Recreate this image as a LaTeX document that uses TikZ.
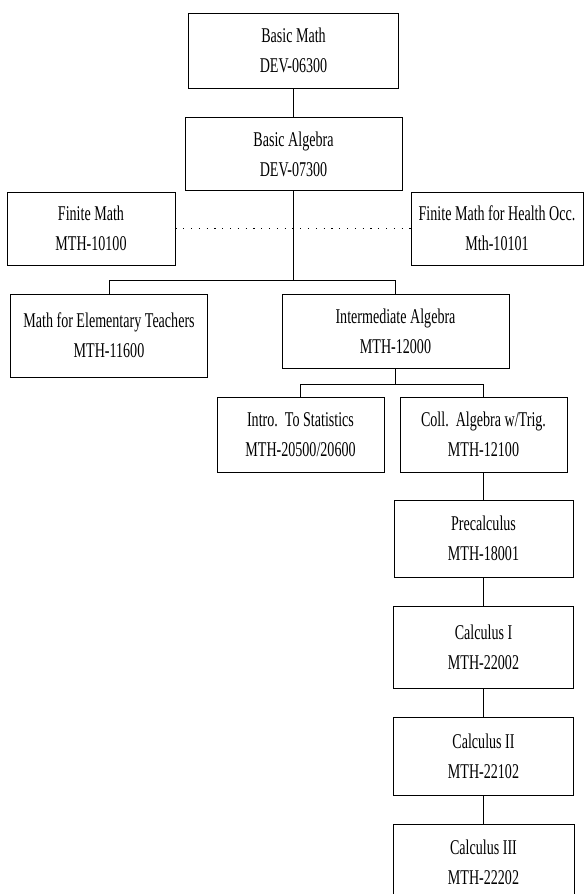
\documentclass[tikz,border=0pt]{standalone}
\usepackage{fontspec}
\setmainfont[FakeStretch=0.67]{Liberation Serif}

\tikzset{every picture/.style={line width=0.8pt}}
\tikzset{course/.style={draw, align=center, inner sep=0pt, font=\fontsize{21}{30}\selectfont}}

\begin{document}
\begin{tikzpicture}[x=1pt,y=1pt,yscale=-1,xscale=1]
\useasboundingbox (0,0) rectangle (584,894);

% Boxes
\node [course, minimum width=210, minimum height=75] (basicmath) at (293.5,50.5) {Basic Math\\DEV-06300};
\node [course, minimum width=217, minimum height=73] (basicalg) at (293.5,154) {Basic Algebra\\DEV-07300};
\node [course, minimum width=168, minimum height=73] (finite) at (91,228.5) {Finite Math\\MTH-10100};
\node [course, minimum width=172, minimum height=73] (health) at (497,228.5) {Finite Math for Health Occ.\\Mth-10101};
\node [course, minimum width=197, minimum height=83] (elem) at (109,335.5) {Math for Elementary Teachers\\MTH-11600};
\node [course, minimum width=227, minimum height=74] (inter) at (395.5,331) {Intermediate Algebra\\MTH-12000};
\node [course, minimum width=167, minimum height=75] (stats) at (300.5,434.5) {Intro.\ \ To Statistics\\MTH-20500/20600};
\node [course, minimum width=167, minimum height=75] (coll) at (483.5,434.5) {Coll.\ \ Algebra w/Trig.\\MTH-12100};
\node [course, minimum width=179, minimum height=77] (precalc) at (483.5,538.5) {Precalculus\\MTH-18001};
\node [course, minimum width=180, minimum height=82] (calcone) at (483.5,647) {Calculus I\\MTH-22002};
\node [course, minimum width=180, minimum height=78] (calctwo) at (483.5,756) {Calculus II\\MTH-22102};
\node [course, minimum width=181, minimum height=77] (calcthree) at (483.5,862.5) {Calculus III\\MTH-22202};

% Branch points
\path (basicalg.south) ++(0,89.5) coordinate (splitone);
\path (inter.south) ++(0,16) coordinate (splittwo);

% Connectors
\draw (basicmath.south) -- (basicalg.north);
\draw (basicalg.south) -- (splitone);
\draw (elem.north) |- (splitone) -| (inter.north);
\draw [dash pattern=on 1.2pt off 6.6pt] (finite.east) -- (health.west);
\draw (inter.south) -- (splittwo);
\draw (stats.north) |- (splittwo) -| (coll.north);
\draw (coll.south) -- (precalc.north);
\draw (precalc.south) -- (calcone.north);
\draw (calcone.south) -- (calctwo.north);
\draw (calctwo.south) -- (calcthree.north);
\end{tikzpicture}
\end{document}
